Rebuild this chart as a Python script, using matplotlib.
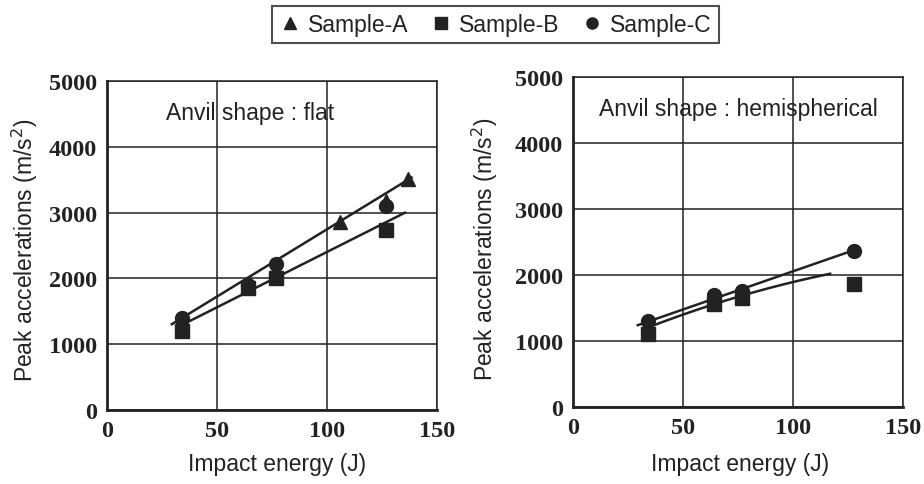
import numpy as np
import matplotlib
matplotlib.use("Agg")
import matplotlib.pyplot as plt
from matplotlib.lines import Line2D

flat_a_x = [34, 64, 77, 106, 127, 137]
flat_a_y = [1380, 1900, 2150, 2860, 3180, 3510]
flat_b_x = [34, 64, 77, 127]
flat_b_y = [1200, 1860, 2000, 2740]
flat_c_x = [34, 64, 77, 127]
flat_c_y = [1400, 1900, 2220, 3100]

hemi_b_x = [34, 64, 77, 128]
hemi_b_y = [1110, 1560, 1650, 1870]
hemi_c_x = [34, 64, 77, 128]
hemi_c_y = [1300, 1700, 1760, 2370]

# trend lines (end points / knots as drawn in the figure)
flat_up_x = [29.5, 138.5]
flat_up_y = [1305, 3534]
flat_lo_x = [33, 135.5]
flat_lo_y = [1275, 3000]
hemi_up_x = [29.5, 128]
hemi_up_y = [1240, 2380]
hemi_lo_x = [35, 64, 100, 117]
hemi_lo_y = [1225, 1530, 1930, 2000]

x_ticks = [0, 50, 100, 150]
y_ticks = [0, 1000, 2000, 3000, 4000, 5000]

INK = "#222222"
LABEL_FONT = "Liberation Sans"
TICK_FONT = "Liberation Serif"

fig = plt.figure(figsize=(9.24, 4.85), dpi=100)
ax1 = fig.add_axes([0.1158, 0.1526, 0.357, 0.678])
ax2 = fig.add_axes([0.620, 0.1588, 0.357, 0.680])


def style(ax, title, title_x, xlab_pos, ylab_pos):
    ax.set_xlim(0, 150)
    ax.set_ylim(0, 5000)
    ax.set_xticks(x_ticks)
    ax.set_yticks(y_ticks)
    ax.grid(True, color=INK, lw=1.1)
    ax.set_axisbelow(True)
    ax.tick_params(length=0, pad=7)
    for lab in ax.get_xticklabels() + ax.get_yticklabels():
        lab.set_fontfamily(TICK_FONT)
        lab.set_fontsize(17.5)
        lab.set_fontweight("bold")
        lab.set_color(INK)
    for side in ["top", "right"]:
        ax.spines[side].set_linewidth(1.1)
        ax.spines[side].set_color(INK)
    for side in ["left", "bottom"]:
        ax.spines[side].set_linewidth(2.0)
        ax.spines[side].set_color(INK)
    ax.set_xlabel("Impact energy (J)", family=LABEL_FONT, fontsize=16.5,
                  color=INK)
    ax.set_ylabel("Peak accelerations (m/s$^2$)", family=LABEL_FONT,
                  fontsize=16.5, color=INK)
    ax.xaxis.set_label_coords(*xlab_pos)
    ax.yaxis.set_label_coords(*ylab_pos)
    ax.text(title_x, 0.905, title, transform=ax.transAxes, ha="center",
            va="center", family=LABEL_FONT, fontsize=16.5, color=INK)


mk = dict(ls="none", color=INK, zorder=3)
lk = dict(color=INK, lw=1.8, zorder=2)

ax1.plot(flat_up_x, flat_up_y, **lk)
ax1.plot(flat_lo_x, flat_lo_y, **lk)
ax1.plot(flat_a_x, flat_a_y, marker="^", markersize=10, **mk)
ax1.plot(flat_b_x, flat_b_y, marker="s", markersize=9.5, **mk)
ax1.plot(flat_c_x, flat_c_y, marker="o", markersize=10, **mk)
style(ax1, "Anvil shape : flat", 0.433, (0.515, -0.128), (-0.203, 0.49))

coef = np.polyfit(hemi_lo_x, hemi_lo_y, 2)
xs = np.linspace(hemi_lo_x[0], hemi_lo_x[-1], 60)
ax2.plot(hemi_up_x, hemi_up_y, **lk)
ax2.plot(xs, np.polyval(coef, xs), **lk)
ax2.plot(hemi_b_x, hemi_b_y, marker="s", markersize=9.5, **mk)
ax2.plot(hemi_c_x, hemi_c_y, marker="o", markersize=10, **mk)
style(ax2, "Anvil shape : hemispherical", 0.503, (0.506, -0.136),
      (-0.221, 0.48))

handles = [Line2D([], [], marker=m, ls="none", color=INK, markersize=8)
           for m in ["^", "s", "o"]]
leg = fig.legend(handles, ["Sample-A", "Sample-B", "Sample-C"], ncol=3,
                 loc="center", bbox_to_anchor=(0.536, 0.948),
                 prop={"family": LABEL_FONT, "size": 16.5},
                 frameon=True, fancybox=False, edgecolor=INK,
                 handletextpad=0.3, columnspacing=0.9, handlelength=1.0,
                 borderpad=0.3)
leg.get_frame().set_linewidth(1.5)
for t in leg.get_texts():
    t.set_color(INK)

fig.savefig("out.png", dpi=100)
